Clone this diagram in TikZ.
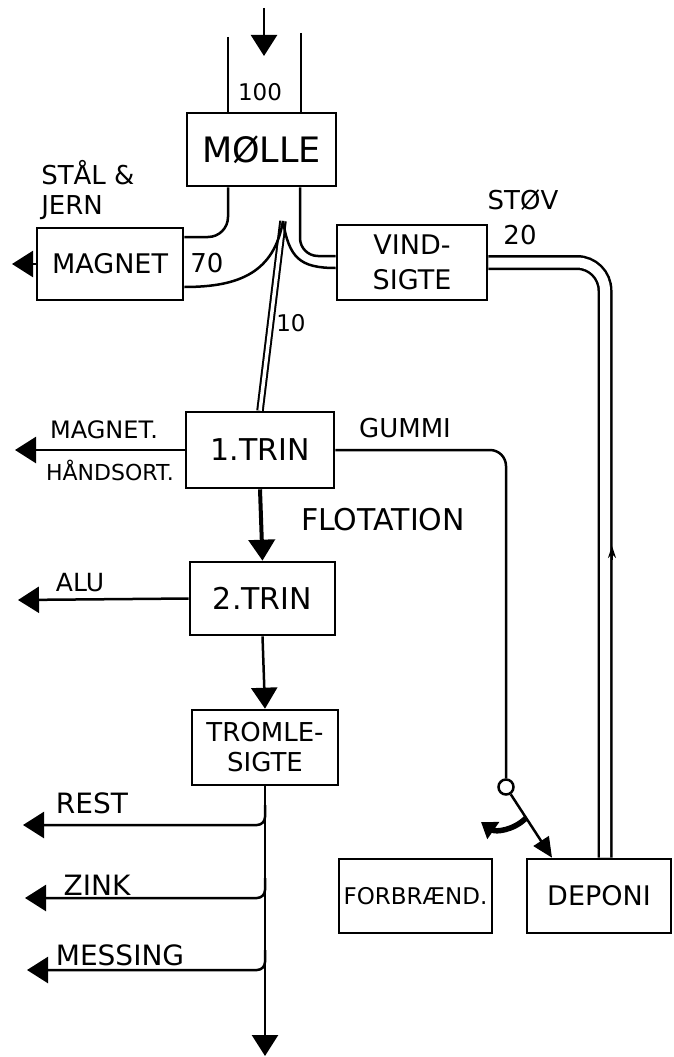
\documentclass[tikz,border=0pt]{standalone}
\usepackage{fontspec}
\setmainfont{DejaVu Sans}
\usetikzlibrary{arrows.meta}

\begin{document}
\begin{tikzpicture}[x=1pt,y=-1pt,line width=2.5pt,>={Triangle[width=26pt,length=21pt]},
  box/.style={draw,line width=2.6pt,inner sep=0pt,align=center,font=\fontsize{27}{34}\selectfont},
  lbl/.style={inner sep=0pt,align=left,font=\fontsize{26}{30}\selectfont}]
\useasboundingbox (0,0) rectangle (673,1057);
\node[box,minimum width=149pt,minimum height=73pt,font=\fontsize{35}{40}\selectfont] (moelle) at (261.5,149.5) {MØLLE};
\node[box,minimum width=146pt,minimum height=72pt] (magnet) at (110,264) {MAGNET};
\node[box,minimum width=150pt,minimum height=75pt,font=\fontsize{27}{35}\selectfont] (vind) at (412,262.5) {VIND-\\SIGTE};
\node[box,minimum width=148pt,minimum height=76pt,font=\fontsize{30}{34}\selectfont] (trin1) at (260,450) {1.TRIN};
\node[box,minimum width=145pt,minimum height=73pt,font=\fontsize{30}{34}\selectfont] (trin2) at (262.5,598.5) {2.TRIN};
\node[box,minimum width=146pt,minimum height=75pt,font=\fontsize{26}{30}\selectfont] (tromle) at (265,747.5) {TROMLE-\\SIGTE};
\node[box,minimum width=153pt,minimum height=74pt,font=\fontsize{23}{27}\selectfont] (forbr) at (415.5,896) {FORBRÆND.};
\node[box,minimum width=144pt,minimum height=74pt] (deponi) at (599,896) {DEPONI};
\node[circle,draw,inner sep=0pt,minimum size=15pt] (sw) at (506,787) {};
\node[lbl,font=\fontsize{23}{26}\selectfont] (hundred) at (260,92) {100};
\node[lbl,anchor=west] (steel) at (40,190) {STÅL \&\\JERN};
\node[lbl] (seventy) at (207,263) {70};
\node[lbl] (dust) at (523,200) {STØV};
\node[lbl] (twenty) at (520,235) {20};
\node[lbl,font=\fontsize{23}{26}\selectfont] (ten) at (291,323) {10};
\node[lbl,font=\fontsize{24}{28}\selectfont] (magsort) at (104,430) {MAGNET.};
\node[lbl,font=\fontsize{22}{26}\selectfont] (handsort) at (110,470) {HÅNDSORT.};
\node[lbl] (rubber) at (405,428) {GUMMI};
\node[lbl,font=\fontsize{30}{34}\selectfont] (flot) at (383,520) {FLOTATION};
\node[lbl,font=\fontsize{25}{28}\selectfont] (alu) at (80,583) {ALU};
\node[lbl,font=\fontsize{28}{32}\selectfont] (rest) at (92,803) {REST};
\node[lbl,font=\fontsize{28}{32}\selectfont] (zink) at (97,885) {ZINK};
\node[lbl,font=\fontsize{28}{32}\selectfont] (messing) at (120,955) {MESSING};
\coordinate (feed) at (264,8);\coordinate (feedtip) at (264,56);
\coordinate (chl) at (228,37);\coordinate (chr) at (301,33);
\coordinate (fork) at (283,221);\coordinate (dustup) at (612,546);
\coordinate (turn) at (526,818);\coordinate (turntip) at (481,822);
\coordinate (out1) at (12,264);\coordinate (out2) at (15,450);\coordinate (out3) at (18,600);
\coordinate (b1) at (265,805);\coordinate (b2) at (265,878);\coordinate (b3) at (265,950);
\coordinate (t1) at (23,825);\coordinate (t2) at (25,898);\coordinate (t3) at (27,970);
\coordinate (bot) at (265,1056);
\draw[->] (feed)--(feedtip);\draw (chl)--(chl |- moelle.north);\draw (chr)--(chr |- moelle.north);
\draw[double,double distance=3.5pt,line width=2pt] (fork)--(trin1.north);
\draw[double,double distance=10pt,rounded corners=28pt] (vind.east) -| ([xshift=6pt]deponi.north);
\draw[rounded corners=20pt] ([xshift=-33.5pt]moelle.south) |- ([yshift=27pt]magnet.east);
\draw (fork) .. controls (274,272) and (240,287) .. ([yshift=-23pt]magnet.east);
\draw[rounded corners=18pt] ([xshift=38.5pt]moelle.south) |- ([yshift=6.5pt]vind.west);
\draw (fork) .. controls (289,258) and (300,268) .. ([yshift=-5.5pt]vind.west);
\draw[-{Stealth[length=12pt,width=8pt]},line width=1.8pt] ([yshift=-14pt]dustup)--(dustup);
\draw[->] (magnet.west)--(out1);\draw[->] (trin1.west)--(out2);\draw[->] (trin2.west)--(out3);
\draw[->,line width=4pt] (trin1.south)--(trin2.north);\draw[->] (trin2.south)--(tromle.north);
\draw[rounded corners=16pt] (trin1.east) -| (sw.north);
\draw[-{Triangle[width=18pt,length=20pt]}] (sw)--([xshift=-47pt]deponi.north);
\draw[line width=5.5pt,-{Triangle[width=20pt,length=15pt]}] (turn) to[bend left=40] (turntip);
\draw[->] (tromle.south)--(bot);
\draw[->,rounded corners=8pt] (b1) |- (t1);\draw[->,rounded corners=8pt] (b2) |- (t2);\draw[->,rounded corners=8pt] (b3) |- (t3);
\end{tikzpicture}
\end{document}
